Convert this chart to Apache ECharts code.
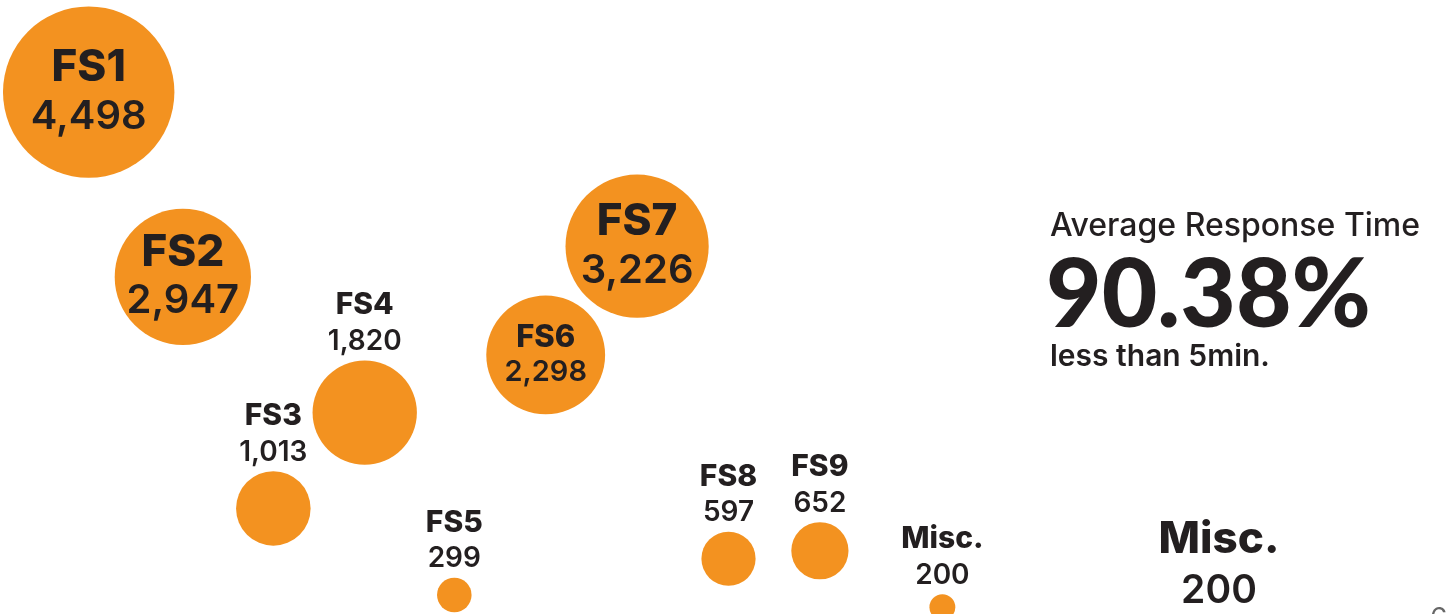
<!DOCTYPE html>
<html>
<head>
<meta charset="utf-8">
<script src="https://cdn.jsdelivr.net/npm/echarts@6/dist/echarts.min.js"></script>
<style>
    html, body { margin: 0; padding: 0; background: #fff; }
    #chart { width: 1446px; height: 614px; }
</style>
</head>
<body>
<div id="chart"></div>
<script>
// stations and their call counts
var names = ["FS1", "FS2", "FS3", "FS4", "FS5", "FS6", "FS7", "FS8", "FS9", "Misc."];
var calls = [4498, 2947, 1013, 1820, 299, 2298, 3226, 597, 652, 200];
// where each bubble sits on the hidden axes
var col = [1, 2.03, 3.02, 4.02, 5, 6, 7, 8, 9, 10.34];
var row = [8.5, 5.49, 1.72, 3.28, 0.31, 4.22, 5.99, 0.9, 1.03, 0.11];

var orange = "#f39220";
var ink = "#231f20";
var font = "Inter";

function bubbleSize(v) {
    return 2.75 * Math.sqrt(v) - 13;
}

var points = names.map(function (n, i) {
    var size = bubbleSize(calls[i]);
    var inside = calls[i] >= 2000;
    var big = size > 130;
    return {
        name: n,
        value: [col[i], row[i], calls[i]],
        label: inside ? {
            position: "inside",
            rich: {
                n: { fontFamily: font, fontWeight: 800, color: ink, fontSize: big ? 44 : 31, lineHeight: big ? 49 : 35 },
                v: { fontFamily: font, fontWeight: 600, color: ink, fontSize: big ? 40 : 29, lineHeight: big ? 49 : 35 }
            }
        } : {
            position: "top",
            distance: 1,
            rich: {
                n: { fontFamily: font, fontWeight: 800, color: ink, fontSize: 30, lineHeight: 36 },
                v: { fontFamily: font, fontWeight: 600, color: ink, fontSize: 28, lineHeight: 36 }
            }
        }
    };
});

var myChart = echarts.init(document.getElementById("chart"));

var option = {
    animation: false,
    backgroundColor: "#fff",
    grid: { left: 43, right: 32, top: 0, bottom: 0 },
    xAxis: { type: "value", min: 0.5, max: 15.5, show: false },
    yAxis: { type: "value", min: 0, max: 10, show: false },
    series: [
        {
            type: "scatter",
            clip: false,
            symbolSize: function (val) {
                return bubbleSize(val[2]);
            },
            itemStyle: { color: orange, opacity: 1 },
            label: {
                show: true,
                formatter: function (p) {
                    return "{n|" + p.name + "}\n{v|" + p.value[2].toLocaleString("en-US") + "}";
                }
            },
            data: points
        }
    ],
    graphic: [
        { type: "text", x: 1050, y: 226, style: { text: "Average Response Time", font: "500 32px Inter", fill: ink, textVerticalAlign: "middle" } },
        { type: "text", x: 1046, y: 296, style: { text: "90.38%", font: "900 96px Lato", fill: ink, textVerticalAlign: "middle" } },
        { type: "text", x: 1050, y: 357, style: { text: "less than 5min.", font: "600 30px Inter", fill: ink, textVerticalAlign: "middle" } },
        { type: "text", x: 1219, y: 540, style: { text: "Misc.", font: "800 44px Inter", fill: ink, textAlign: "center", textVerticalAlign: "middle" } },
        { type: "text", x: 1219, y: 591, style: { text: "200", font: "600 39px Inter", fill: ink, textAlign: "center", textVerticalAlign: "middle" } },
        { type: "text", x: 1430, y: 620, style: { text: "6", font: "28px Inter", fill: "#666", textVerticalAlign: "middle" } }
    ]
};

myChart.setOption(option);
window.addEventListener("resize", function () {
    myChart.resize();
});
</script>
</body>
</html>
